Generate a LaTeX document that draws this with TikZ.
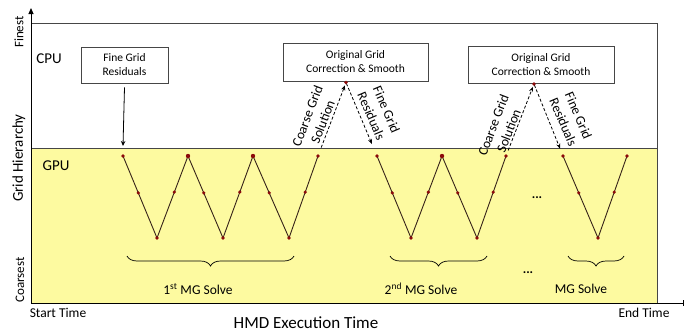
\documentclass[tikz,border=0pt]{standalone}
\usepackage{fontspec}
\setmainfont{Carlito}
\usetikzlibrary{arrows.meta,decorations.pathreplacing}
\definecolor{gpuyellow}{RGB}{253,250,160}
\definecolor{framegray}{RGB}{70,70,70}
\definecolor{dotred}{RGB}{140,10,10}
\definecolor{legbrown}{RGB}{55,35,25}
\tikzset{
  frame/.style={draw=framegray, line width=0.9pt},
  stepbox/.style={draw=framegray, line width=0.8pt, fill=white, align=center,
    font=\fontsize{11.5}{14}\selectfont, inner sep=0pt},
  leg/.style={draw=legbrown, line width=0.9pt},
  gdot/.style={circle, fill=dotred, inner sep=0pt, minimum size=3.6pt},
  gdotbig/.style={circle, fill=dotred, inner sep=0pt, minimum size=4.4pt},
  dasharrow/.style={draw=black, line width=0.8pt, dash pattern=on 3pt off 2pt,
    -{Stealth[length=5pt,width=4pt]}},
  solidarrow/.style={draw=black, line width=0.8pt, -{Stealth[length=5pt,width=4.5pt]}},
  slopetext/.style={align=center, font=\fontsize{13.5}{16.5}\selectfont, inner sep=0pt},
  axislabel/.style={font=\fontsize{13}{15}\selectfont, inner sep=0pt},
  solvebrace/.style={draw=black, line width=0.7pt,
    decorate, decoration={brace, amplitude=10pt}},
  solvetext/.style={font=\fontsize{13.5}{16}\selectfont, inner sep=0pt},
}
\begin{document}
\begin{tikzpicture}[x=1pt,y=-1pt]
\useasboundingbox (0,0) rectangle (692,332);

% CPU / GPU regions
\fill[gpuyellow] (31,148) rectangle (657,303);
\draw[frame] (31,23) -- (657,23) -- (657,303);
\draw[frame] (31,148) -- (657,148);

% axes
\coordinate (origin) at (31,303);
\coordinate (ytop) at (31,8);
\coordinate (xend) at (684,303);
\draw[line width=0.9pt, -{Triangle[length=6pt,width=5pt]}] (origin) -- (ytop);
\draw[line width=0.9pt, -{Bar[width=6pt]}] (origin) -- (xend);

\node[axislabel, rotate=90] (finest) at (19,32) {Finest};
\node[font=\fontsize{15}{18}\selectfont, inner sep=0pt, rotate=90] (hier) at (19,158) {Grid Hierarchy};
\node[axislabel, rotate=90] (coarsest) at (20,280) {Coarsest};
\node[font=\fontsize{13.5}{16}\selectfont, inner sep=0pt] (start) at (58,313) {Start Time};
\node[font=\fontsize{13.5}{16}\selectfont, inner sep=0pt] (endt) at (644,313) {End Time};
\node[font=\fontsize{17}{20}\selectfont, inner sep=0pt] (xlabel) at (306,323) {HMD Execution Time};

\node[font=\fontsize{15}{18}\selectfont, inner sep=0pt] (cpu) at (49,59) {CPU};
\node[font=\fontsize{15}{18}\selectfont, inner sep=0pt] (gpu) at (56,166) {GPU};

% CPU-side steps
\node[stepbox, minimum width=87pt, minimum height=36pt] (fgr) at (124.5,65) {Fine Grid\\Residuals};
\node[stepbox, minimum width=145pt, minimum height=38pt] (ogc1) at (355.5,62) {Original Grid\\Correction \& Smooth};
\node[stepbox, minimum width=146pt, minimum height=37pt] (ogc2) at (541,65) {Original Grid\\Correction \& Smooth};

% multigrid levels: tops (finest) and bottoms (coarsest)
\foreach \n/\x in {1/123,2/188,3/253,4/318,5/377,6/442,7/506,8/563,9/627}
  \coordinate (T\n) at (\x,156);
\foreach \n/\x in {1/157,2/223,3/289,4/411,5/477,6/598}
  \coordinate (B\n) at (\x,238);

% 1st MG solve
\draw[leg] (T1) -- node[gdot,pos=0.45]{} (B1) -- node[gdot,pos=0.56]{} (T2)
  -- node[gdot,pos=0.45]{} (B2) -- node[gdot,pos=0.56]{} (T3)
  -- node[gdot,pos=0.45]{} (B3) -- node[gdot,pos=0.56]{} (T4);
% 2nd MG solve
\draw[leg] (T5) -- node[gdot,pos=0.45]{} (B4) -- node[gdot,pos=0.56]{} (T6)
  -- node[gdot,pos=0.45]{} (B5) -- node[gdot,pos=0.56]{} (T7);
% last MG solve
\draw[leg] (T8) -- node[gdot,pos=0.45]{} (B6) -- node[gdot,pos=0.56]{} (T9);

\foreach \p in {T1,T4,T5,T7,T8,T9,B1,B2,B3,B4,B5,B6}
  \node[gdot] at (\p) {};
\foreach \p in {T2,T3,T6}
  \node[gdotbig] at (\p) {};

% CPU <-> GPU transfers
\draw[solidarrow] (fgr.south) ++(0,4) coordinate (fgrout) -- (123,146) coordinate (fgrin);

\coordinate (c1) at (346,82.5);
\coordinate (c2) at (534,84);
\draw[dasharrow, shorten <=9pt, shorten >=3pt] (T4) -- (c1);
\draw[dasharrow, shorten >=13pt, shorten <=1pt] (c1) -- (T5);
\draw[dasharrow, shorten <=6pt, shorten >=3pt] (T7) -- (c2);
\draw[dasharrow, shorten >=8pt, shorten <=1pt] (c2) -- (T8);
\node[gdot] at (c1) {};
\node[gdot] at (c2) {};

\node[slopetext, rotate=69] (cgs1) at (315,119) {Coarse Grid\\Solution};
\node[slopetext, rotate=-67] (fgr1) at (379,113) {Fine Grid\\Residuals};
\node[slopetext, rotate=69] (cgs2) at (501,128) {Coarse Grid\\Solution};
\node[slopetext, rotate=-67] (fgr2) at (571,119) {Fine Grid\\Residuals};

% solve braces
\draw[solvebrace] (294,256) -- (127,256);
\draw[solvebrace] (487,256) -- (390,256);
\draw[solvebrace] (624,256) -- (568,256);
\node[solvetext] (s1) at (198,289) {1\textsuperscript{st} MG Solve};
\node[solvetext] (s2) at (421,289) {2\textsuperscript{nd} MG Solve};
\node[solvetext] (s3) at (581,289) {MG Solve};

\node[font=\bfseries\fontsize{13}{15}\selectfont, inner sep=0pt] (dots1) at (537,198) {...};
\node[font=\bfseries\fontsize{13}{15}\selectfont, inner sep=0pt] (dots2) at (528,273) {...};
\end{tikzpicture}
\end{document}
